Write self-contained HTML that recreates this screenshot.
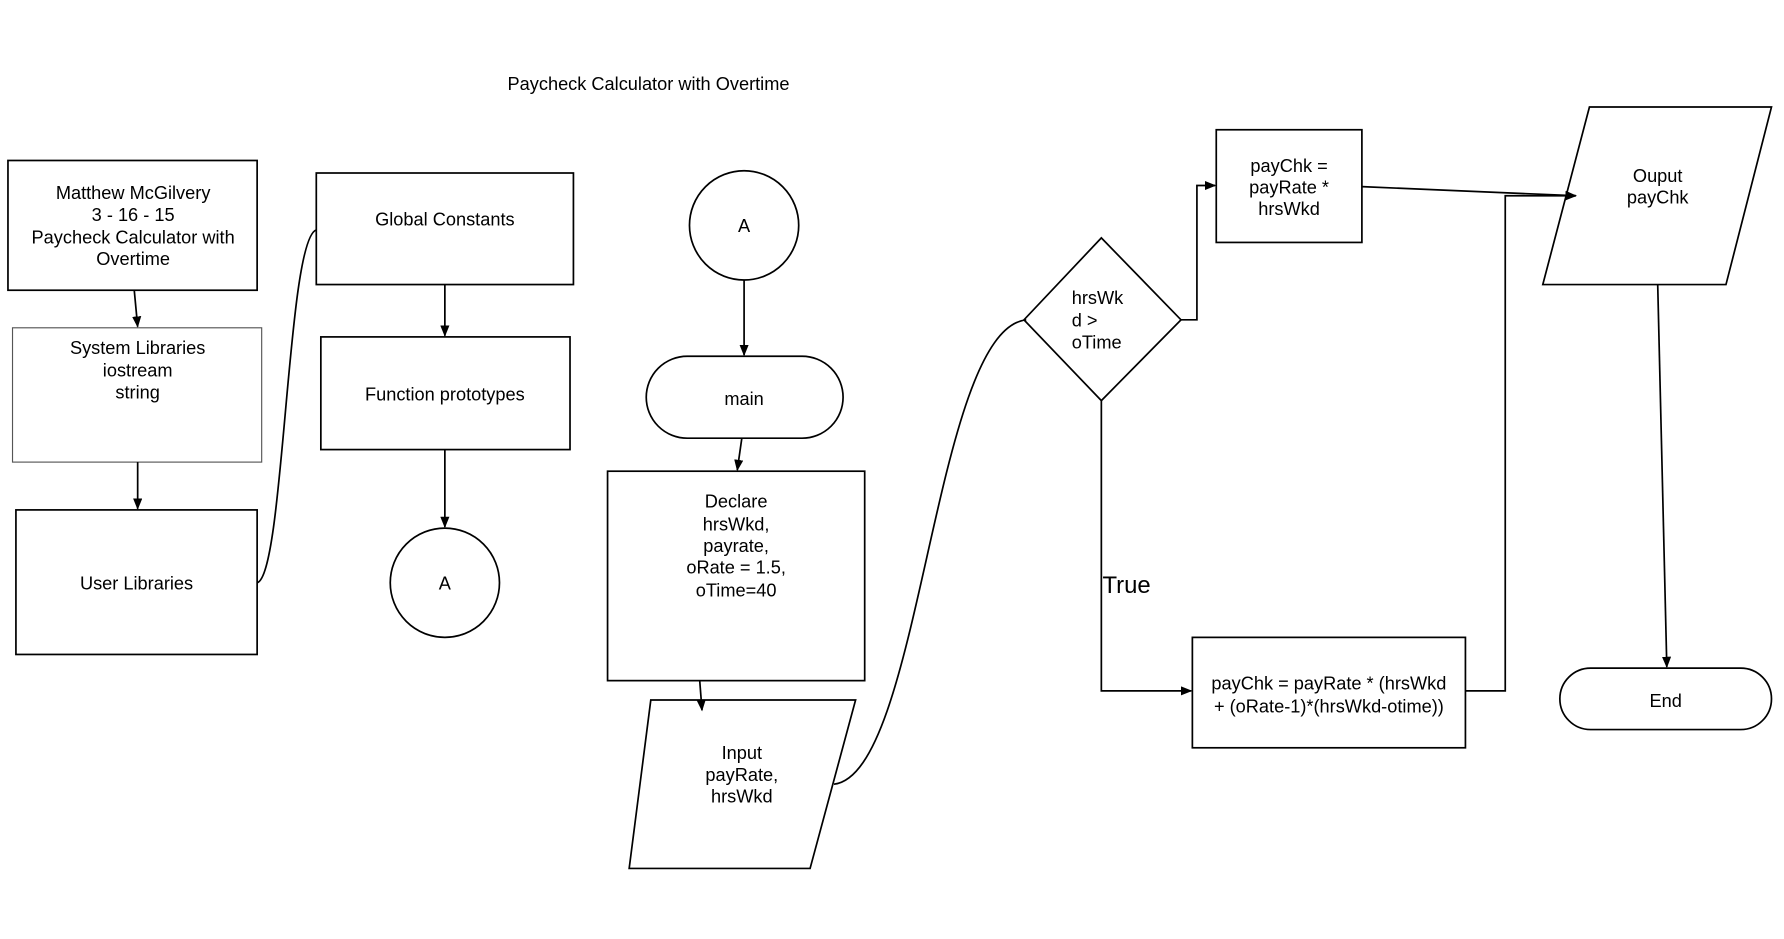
<!DOCTYPE html>
<html><head><meta charset="utf-8"><style>
html,body{margin:0;padding:0;background:#fff;}
svg{display:block}
text{font-family:"Liberation Sans",sans-serif;font-size:16px;fill:#000;text-anchor:middle}
</style></head><body>
<svg width="1784" height="939" viewBox="0 0 1568 825" preserveAspectRatio="none" xmlns="http://www.w3.org/2000/svg">
<defs><marker id="a" markerWidth="10" markerHeight="8" refX="9" refY="4" orient="auto" markerUnits="userSpaceOnUse"><path d="M0,0 L10,4 L0,8 z" fill="#000"/></marker></defs>
<g fill="none" stroke="#000" stroke-width="1.5">
<rect x="7" y="141" width="219" height="114"/>
<rect x="11" y="288" width="219" height="118" stroke="#555" stroke-width="1"/>
<rect x="14" y="448" width="212" height="127"/>
<rect x="278" y="152" width="226" height="98"/>
<rect x="282" y="296" width="219" height="99"/>
<circle cx="391" cy="512" r="48"/>
<circle cx="654" cy="198" r="48"/>
<rect x="568" y="313" width="173" height="72" rx="36"/>
<rect x="534" y="414" width="226" height="184"/>
<polygon points="572,615 752,615 712,763 553,763"/>
<polygon points="968,209 1038,281 968,352 900,281"/>
<rect x="1069" y="114" width="128" height="99"/>
<rect x="1048" y="560" width="240" height="97"/>
<polygon points="1397,94 1557,94 1517,250 1356,250"/>
<rect x="1371" y="587" width="186" height="54" rx="27"/>
<line x1="118" y1="255" x2="121" y2="287" marker-end="url(#a)"/>
<line x1="121" y1="406" x2="121" y2="447" marker-end="url(#a)"/>
<path d="M226,512 C250,505 252,210 278,202"/>
<line x1="391" y1="250" x2="391" y2="295" marker-end="url(#a)"/>
<line x1="391" y1="395" x2="391" y2="463" marker-end="url(#a)"/>
<line x1="654" y1="246" x2="654" y2="312" marker-end="url(#a)"/>
<line x1="652" y1="385" x2="648" y2="413" marker-end="url(#a)"/>
<line x1="615" y1="598" x2="617" y2="624" marker-end="url(#a)"/>
<path d="M733,689 C810,680 820,290 902,281"/>
<polyline points="1038,281 1052,281 1052,163 1068,163" marker-end="url(#a)"/>
<line x1="1197" y1="164" x2="1385" y2="172" marker-end="url(#a)"/>
<polyline points="968,352 968,607 1047,607" marker-end="url(#a)"/>
<polyline points="1288,607 1323,607 1323,172 1385,172" marker-end="url(#a)"/>
<line x1="1457" y1="250" x2="1465" y2="586" marker-end="url(#a)"/>
</g>
<text x="570" y="79">Paycheck Calculator with Overtime</text>
<text x="117" y="175">Matthew McGilvery</text>
<text x="117" y="194">3 - 16 - 15</text>
<text x="117" y="214">Paycheck Calculator with</text>
<text x="117" y="233">Overtime</text>
<text x="121" y="311">System Libraries</text>
<text x="121" y="331">iostream</text>
<text x="121" y="350">string</text>
<text x="120" y="518">User Libraries</text>
<text x="391" y="198">Global Constants</text>
<text x="391" y="352">Function prototypes</text>
<text x="391" y="518">A</text>
<text x="654" y="204">A</text>
<text x="654" y="356">main</text>
<text x="647" y="446">Declare</text>
<text x="647" y="466">hrsWkd,</text>
<text x="647" y="485">payrate,</text>
<text x="647" y="504">oRate = 1.5,</text>
<text x="647" y="524">oTime=40</text>
<text x="652" y="667">Input</text>
<text x="652" y="686">payRate,</text>
<text x="652" y="705">hrsWkd</text>
<text x="942" y="267" style="text-anchor:start">hrsWk</text>
<text x="942" y="287" style="text-anchor:start">d &gt;</text>
<text x="942" y="306" style="text-anchor:start">oTime</text>
<text x="1133" y="151">payChk =</text>
<text x="1133" y="170">payRate *</text>
<text x="1133" y="189">hrsWkd</text>
<text x="969" y="521" style="text-anchor:start;font-size:21px">True</text>
<text x="1168" y="606">payChk = payRate * (hrsWkd</text>
<text x="1168" y="626">+ (oRate-1)*(hrsWkd-otime))</text>
<text x="1457" y="160">Ouput</text>
<text x="1457" y="179">payChk</text>
<text x="1464" y="621">End</text>
</svg>
</body></html>
